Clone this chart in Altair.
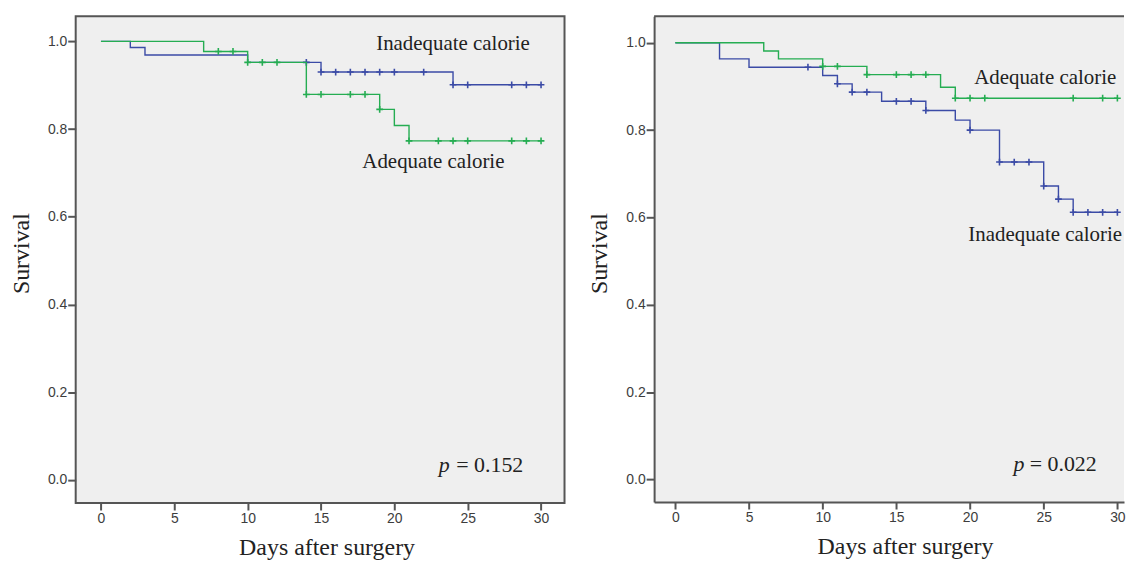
import altair as alt
import pandas as pd

# ---------------- data ----------------
# Left panel
L_ADQ_T = [0, 7, 10, 14, 19, 20, 21, 30]
L_ADQ_S = [1.0, 0.977, 0.952, 0.879, 0.845, 0.808, 0.773, 0.773]
L_ADQ_C = [8, 9, 10, 11, 12, 14, 15, 17, 18, 19, 21, 23, 24, 25, 28, 29, 30]

L_INA_T = [0, 2, 3, 10, 15, 24, 30]
L_INA_S = [1.0, 0.986, 0.969, 0.952, 0.930, 0.901, 0.901]
L_INA_C = [14, 15, 16, 17, 18, 19, 20, 22, 24, 25, 28, 29, 30]

# Right panel
R_ADQ_T = [0, 6, 7, 10, 13, 18, 19, 30]
R_ADQ_S = [1.0, 0.981, 0.963, 0.946, 0.927, 0.898, 0.873, 0.873]
R_ADQ_C = [10, 11, 13, 15, 16, 17, 19, 20, 21, 27, 29, 30]

R_INA_T = [0, 3, 5, 10, 11, 12, 14, 17, 19, 20, 22, 25, 26, 27, 30]
R_INA_S = [1.0, 0.963, 0.944, 0.925, 0.906, 0.887, 0.866, 0.845, 0.823, 0.800,
           0.727, 0.672, 0.642, 0.612, 0.612]
R_INA_C = [9, 11, 12, 13, 15, 16, 17, 20, 22, 23, 24, 25, 26, 27, 28, 29, 30]

X_TICKS = [0, 5, 10, 15, 20, 25, 30]
Y_TICKS = [0.0, 0.2, 0.4, 0.6, 0.8, 1.0]

LEFT_LABELS = ["Inadequate calorie", "Adequate calorie"]
LEFT_LABEL_POS = [(24.0, 0.981), (22.66, 0.711)]
RIGHT_LABELS = ["Adequate calorie", "Inadequate calorie"]
RIGHT_LABEL_POS = [(25.1, 0.905), (25.1, 0.547)]

LEFT_P = "= 0.152"
RIGHT_P = "= 0.022"
LEFT_P_POS = (23.03, 28.79, 0.019)
RIGHT_P_POS = (22.95, 28.6, 0.019)

BLUE = "#3b4ba6"
GREEN = "#25ad52"
FRAME = "#555555"
BG = "#efefef"
SERIF = "Liberation Serif"
SANS = "Liberation Sans"


def level_at(t, times, surv):
    v = surv[0]
    for tt, ss in zip(times, surv):
        if tt <= t:
            v = ss
    return v


def curve_layers(times, surv, ctimes, color, x, y):
    line_df = pd.DataFrame({"t": times, "s": surv})
    cen_df = pd.DataFrame({"t": ctimes,
                           "s": [level_at(c, times, surv) for c in ctimes]})
    line = alt.Chart(line_df).mark_line(
        interpolate="step-after", color=color, strokeWidth=1.4
    ).encode(x=x, y=y)
    cross = alt.Chart(cen_df).mark_point(
        shape="M-1,0L1,0M0,-1L0,1", filled=False, color=color,
        strokeWidth=1.6, size=46, opacity=1
    ).encode(x=x, y=y)
    return [line, cross]


def panel(curves, labels, label_pos, ptext, ppos, xdom, ydom, width, height,
          framed):
    x = alt.X("t:Q",
              scale=alt.Scale(domain=xdom, nice=False, zero=False),
              axis=alt.Axis(values=X_TICKS, title="Days after surgery",
                            titleX=252, grid=False, domain=not framed,
                            domainColor=FRAME, domainWidth=2,
                            tickColor=FRAME, tickWidth=2, tickSize=7,
                            labelPadding=2, labelFont=SANS, labelFontSize=14,
                            labelColor="#3d3d3d", titleFont=SERIF,
                            titleFontSize=24, titleFontWeight="normal",
                            titleColor="#222222", titlePadding=10,
                            labelFlush=False))
    y = alt.Y("s:Q",
              scale=alt.Scale(domain=ydom, nice=False, zero=False),
              axis=alt.Axis(values=Y_TICKS, format=".1f", title="Survival",
                            titleY=238, grid=False, domain=not framed,
                            domainColor=FRAME, domainWidth=2,
                            tickColor=FRAME, tickWidth=2, tickSize=8,
                            labelPadding=1, labelFont=SANS, labelFontSize=14,
                            labelColor="#3d3d3d", titleFont=SERIF,
                            titleFontSize=24, titleFontWeight="normal",
                            titleColor="#222222", titlePadding=14))
    layers = []
    for times, surv, ctimes, color in curves:
        layers += curve_layers(times, surv, ctimes, color, x, y)

    lab_df = pd.DataFrame({"t": [p[0] for p in label_pos],
                           "s": [p[1] for p in label_pos],
                           "txt": labels})
    layers.append(alt.Chart(lab_df).mark_text(
        font=SERIF, fontSize=21, color="#222222", align="center",
        baseline="alphabetic").encode(x=x, y=y, text="txt:N"))

    p_df = pd.DataFrame({"t": [ppos[0]], "s": [ppos[2]], "txt": ["p"]})
    v_df = pd.DataFrame({"t": [ppos[1]], "s": [ppos[2]], "txt": [ptext]})
    layers.append(alt.Chart(p_df).mark_text(
        font=SERIF, fontSize=22, fontStyle="italic", color="#222222",
        align="left", baseline="alphabetic").encode(x=x, y=y, text="txt:N"))
    layers.append(alt.Chart(v_df).mark_text(
        font=SERIF, fontSize=22, color="#222222", align="right",
        baseline="alphabetic").encode(x=x, y=y, text="txt:N"))

    if framed:
        view = alt.ViewBackground(fill=BG, stroke=FRAME, strokeWidth=2)
    else:
        view = alt.ViewBackground(fill=BG, stroke="transparent")
        top = alt.Chart(pd.DataFrame({"a": [0]})).mark_rule(
            color=FRAME, strokeWidth=2).encode(
            x=alt.value(0), x2=alt.value(width), y=alt.value(0))
        layers.append(top)

    return alt.layer(*layers).properties(width=width, height=height,
                                         view=view)


left = panel(
    [(L_INA_T, L_INA_S, L_INA_C, BLUE), (L_ADQ_T, L_ADQ_S, L_ADQ_C, GREEN)],
    LEFT_LABELS, LEFT_LABEL_POS, LEFT_P, LEFT_P_POS,
    [-1.723, 31.6], [-0.0529, 1.0574], 491, 489, True)

right = panel(
    [(R_INA_T, R_INA_S, R_INA_C, BLUE), (R_ADQ_T, R_ADQ_S, R_ADQ_C, GREEN)],
    RIGHT_LABELS, RIGHT_LABEL_POS, RIGHT_P, RIGHT_P_POS,
    [-1.44, 30.45], [-0.0513, 1.0608], 472, 488, False)

chart = alt.hconcat(left, right, spacing=22).properties(
    padding={"left": 0, "top": 6, "right": 1, "bottom": 0},
    background="white",
).configure_view(strokeWidth=0)

chart.save("out.html", embed_options={"renderer": "svg", "actions": False})
